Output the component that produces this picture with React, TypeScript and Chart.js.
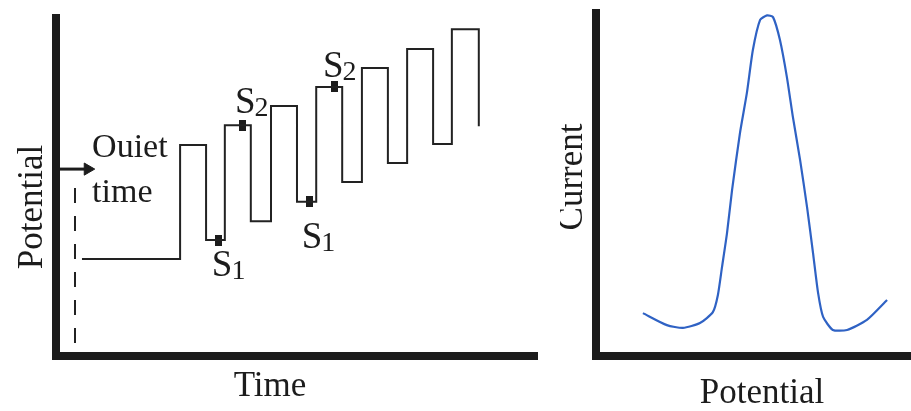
import React, { useEffect, useRef } from 'react';
import { Chart, registerables } from 'chart.js';

Chart.register(...registerables);

// ---- Left panel: square-wave potential vs time (arbitrary units 0..100) ----
const stepTimes = [5.4, 25.8, 31.2, 35.1, 40.5, 44.7, 50.1, 54.1, 59.5, 63.6, 69.0, 73.0, 78.4, 82.3, 87.9];
const stepLevels = [28.7, 62.4, 34.3, 68.3, 39.9, 74.0, 45.6, 79.6, 51.5, 85.2, 57.1, 90.8, 62.7, 96.7, 68.0];

const sampleTimes = [33.7, 38.7, 52.6, 58.0];
const sampleLevels = [34.3, 68.3, 45.6, 79.6];
const sampleNames = ['S', 'S', 'S', 'S'];
const sampleSubs = ['1', '2', '1', '2'];
const sampleLabelX = [32.4, 37.2, 51.1, 55.5];
const sampleLabelY = [23.7, 71.9, 32.0, 82.5];

const quietLineX = [3.95, 3.95];
const quietLineY = [49.7, 2.7];
const arrowX = [0.8, 6.6];
const arrowY = [55.3, 55.3];
const quietText = ['Ouiet', 'time'];
const quietTextX = [7.5, 7.5];
const quietTextY = [58.9, 45.6];

const leftXTitle = 'Time';
const leftYTitle = 'Potential';

// ---- Right panel: current vs potential (arbitrary units 0..100) ----
const sweepPotential = [14.9, 22.5, 27.6, 33.0, 37.1, 38.7, 40.0, 41.6, 43.2, 45.7, 47.9, 49.8, 52.1, 54.3, 56.2, 58.4, 60.6, 62.5, 64.8, 67.0, 68.9, 70.5, 72.1, 75.2, 79.7, 86.0, 92.4];
const sweepCurrent = [12.5, 9.0, 8.2, 9.6, 12.8, 17.8, 25.9, 35.9, 48.4, 65.0, 76.7, 89.2, 98.0, 99.3, 98.8, 92.1, 81.3, 69.7, 57.1, 43.4, 30.0, 18.4, 11.4, 7.6, 7.6, 10.5, 16.3];

const rightXTitle = 'Potential';
const rightYTitle = 'Current';

const INK = '#1c1c1c';
const SERIF = '"Liberation Serif", "Times New Roman", serif';

function zip(xs: number[], ys: number[]) {
  return xs.map((x, i) => ({ x, y: ys[i] }));
}

function axisScale(horizontal: boolean) {
  return {
    type: 'linear' as const,
    min: 0,
    max: 100,
    display: true,
    ticks: { display: false },
    grid: { display: false, drawTicks: false },
    border: { display: true, color: INK, width: 8 },
    afterFit: (s: any) => {
      if (horizontal) s.height = 0;
      else s.width = 0;
    },
  };
}

function makeMarker() {
  const c = document.createElement('canvas');
  c.width = 7;
  c.height = 11;
  const g = c.getContext('2d')!;
  g.fillStyle = INK;
  g.fillRect(0, 0, 7, 11);
  return c;
}

const leftTextPlugin = {
  id: 'leftText',
  afterDatasetsDraw(chart: any) {
    const { ctx, scales } = chart;
    const xs = scales.x;
    const ys = scales.y;
    ctx.save();
    ctx.fillStyle = INK;
    ctx.textBaseline = 'alphabetic';
    ctx.textAlign = 'left';
    // S1 / S2 labels
    sampleNames.forEach((name, i) => {
      const px = xs.getPixelForValue(sampleLabelX[i]);
      const py = ys.getPixelForValue(sampleLabelY[i]);
      ctx.font = `37px ${SERIF}`;
      ctx.fillText(name, px, py);
      const w = ctx.measureText(name).width;
      ctx.font = `28px ${SERIF}`;
      ctx.fillText(sampleSubs[i], px + w - 1, py + 3);
    });
    // Quiet time text
    ctx.font = `34px ${SERIF}`;
    quietText.forEach((t, i) => {
      ctx.fillText(t, xs.getPixelForValue(quietTextX[i]), ys.getPixelForValue(quietTextY[i]));
    });
    // Axis titles
    ctx.font = `35px ${SERIF}`;
    ctx.textAlign = 'center';
    ctx.fillText(leftXTitle, 270, 396);
    ctx.translate(42, 207);
    ctx.rotate(-Math.PI / 2);
    ctx.fillText(leftYTitle, 0, 0);
    ctx.restore();
  },
};

const rightTextPlugin = {
  id: 'rightText',
  afterDatasetsDraw(chart: any) {
    const { ctx } = chart;
    ctx.save();
    ctx.fillStyle = INK;
    ctx.textBaseline = 'alphabetic';
    ctx.textAlign = 'center';
    ctx.font = `35px ${SERIF}`;
    ctx.fillText(rightXTitle, 202, 403);
    ctx.translate(22, 177);
    ctx.rotate(-Math.PI / 2);
    ctx.fillText(rightYTitle, 0, 0);
    ctx.restore();
  },
};

export default function App() {
  const leftRef = useRef<HTMLCanvasElement>(null);
  const rightRef = useRef<HTMLCanvasElement>(null);

  useEffect(() => {
    const marker = makeMarker();
    const left = new Chart(leftRef.current!, {
      type: 'scatter',
      data: {
        datasets: [
          {
            data: zip(stepTimes, stepLevels),
            showLine: true,
            stepped: 'before',
            borderColor: '#222',
            borderWidth: 2,
            pointRadius: 0,
          } as any,
          {
            data: zip(sampleTimes, sampleLevels),
            showLine: false,
            pointStyle: marker,
            pointRadius: 5,
            backgroundColor: INK,
            borderColor: INK,
          } as any,
          {
            data: zip(quietLineX, quietLineY),
            showLine: true,
            borderColor: '#222',
            borderWidth: 2,
            borderDash: [15, 13],
            pointRadius: 0,
          },
          {
            data: zip(arrowX, arrowY),
            showLine: true,
            borderColor: INK,
            borderWidth: 3,
            pointRadius: [0, 7],
            pointStyle: 'triangle',
            rotation: 90,
            backgroundColor: INK,
            pointBorderWidth: 1,
          } as any,
        ],
      },
      options: {
        animation: false,
        responsive: false,
        maintainAspectRatio: false,
        devicePixelRatio: 1,
        layout: { padding: { left: 56, top: 18, right: 23, bottom: 55 } },
        plugins: { legend: { display: false }, tooltip: { enabled: false } },
        events: [],
        scales: { x: axisScale(true), y: axisScale(false) } as any,
      },
      plugins: [leftTextPlugin],
    });

    const right = new Chart(rightRef.current!, {
      type: 'scatter',
      data: {
        datasets: [
          {
            data: zip(sweepPotential, sweepCurrent),
            showLine: true,
            borderColor: '#2f62c4',
            borderWidth: 2.2,
            pointRadius: 0,
            tension: 0.2,
          },
        ],
      },
      options: {
        animation: false,
        responsive: false,
        maintainAspectRatio: false,
        devicePixelRatio: 1,
        layout: { padding: { left: 36, top: 13, right: 0, bottom: 55 } },
        plugins: { legend: { display: false }, tooltip: { enabled: false } },
        events: [],
        scales: { x: axisScale(true), y: axisScale(false) } as any,
      },
      plugins: [rightTextPlugin],
    });

    return () => {
      left.destroy();
      right.destroy();
    };
  }, []);

  return (
    <div style={{ position: 'fixed', left: 0, top: 0, width: 911, height: 411, background: '#fff', overflow: 'hidden' }}>
      <canvas ref={leftRef} width={560} height={411} style={{ position: 'absolute', left: 0, top: 0, width: 560, height: 411 }} />
      <canvas ref={rightRef} width={351} height={411} style={{ position: 'absolute', left: 560, top: 0, width: 351, height: 411 }} />
    </div>
  );
}
